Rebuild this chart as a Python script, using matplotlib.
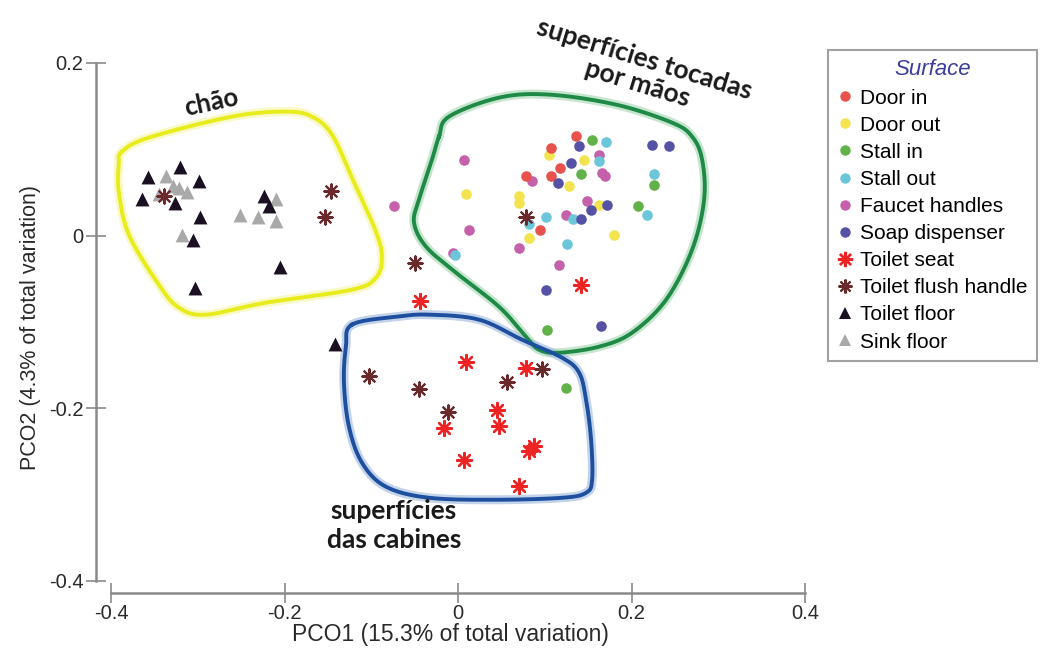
import numpy as np
import matplotlib.pyplot as plt
from matplotlib.lines import Line2D

# Sample scores (PCO1, PCO2)
door_in_x = [0.136, 0.107, 0.118, 0.078, 0.107, 0.095]
door_in_y = [0.115, 0.102, 0.078, 0.069, 0.069, 0.007]

door_out_x = [0.105, 0.145, 0.128, 0.070, 0.070, 0.009, 0.163, 0.180, 0.082]
door_out_y = [0.094, 0.088, 0.057, 0.046, 0.038, 0.048, 0.036, 0.001, -0.003]

stall_in_x = [0.155, 0.142, 0.226, 0.207, 0.103, 0.124]
stall_in_y = [0.111, 0.071, 0.059, 0.034, -0.109, -0.177]

stall_out_x = [0.171, 0.163, 0.226, 0.218, 0.101, 0.132, 0.082, 0.126, -0.003]
stall_out_y = [0.109, 0.086, 0.071, 0.024, 0.022, 0.019, 0.013, -0.010, -0.022]

faucet_x = [0.007, 0.013, -0.006, 0.085, 0.166, 0.170, 0.163, 0.149, 0.124, 0.070, 0.116, -0.074]
faucet_y = [0.088, 0.007, -0.020, 0.063, 0.073, 0.069, 0.094, 0.040, 0.024, -0.014, -0.034, 0.034]

soap_x = [0.140, 0.130, 0.115, 0.153, 0.172, 0.142, 0.101, 0.165, 0.224, 0.243]
soap_y = [0.104, 0.084, 0.061, 0.030, 0.036, 0.019, -0.063, -0.105, 0.105, 0.104]

seat_x = [0.142, -0.044, 0.009, 0.078, 0.045, 0.047, -0.016, 0.007, 0.088, 0.082, 0.070]
seat_y = [-0.057, -0.076, -0.146, -0.153, -0.202, -0.221, -0.223, -0.260, -0.244, -0.250, -0.290]

flush_x = [-0.339, -0.146, -0.153, -0.049, 0.078, -0.103, -0.045, -0.012, 0.057, 0.097]
flush_y = [0.046, 0.052, 0.022, -0.032, 0.022, -0.163, -0.178, -0.204, -0.169, -0.155]

tfloor_x = [-0.320, -0.357, -0.299, -0.364, -0.326, -0.297, -0.224, -0.218, -0.306, -0.205, -0.303, -0.142]
tfloor_y = [0.080, 0.068, 0.063, 0.042, 0.038, 0.022, 0.046, 0.034, -0.005, -0.036, -0.061, -0.125]

sfloor_x = [-0.337, -0.322, -0.312, -0.318, -0.251, -0.230, -0.210, -0.210, -0.329, -0.345]
sfloor_y = [0.069, 0.055, 0.051, 0.001, 0.024, 0.022, 0.042, 0.017, 0.057, 0.048]

# Hand-drawn group outlines (annotation, data coords)
chao_x = [-0.3875, -0.3564, -0.2607, -0.1984, -0.1684, -0.1453, -0.1223, -0.0946, -0.0877,
          -0.0946, -0.1223, -0.2215, -0.2907, -0.3218, -0.3449, -0.3795, -0.3910, -0.3910]
chao_y = [0.0973, 0.1136, 0.1379, 0.1437, 0.1379, 0.1170, 0.0672, 0.0046, -0.0255,
          -0.0487, -0.0626, -0.0776, -0.0915, -0.0834, -0.0568, 0.0012, 0.0510, 0.0823]

maos_x = [-0.0219, -0.0104, 0.0473, 0.1050, 0.1822, 0.2468, 0.2699, 0.2814, 0.2837, 0.2699, 0.2399,
          0.2007, 0.1626, 0.1165, 0.0934, 0.0784, 0.0473, -0.0023, -0.0369, -0.0507, -0.0450, -0.0300]
maos_y = [0.1147, 0.1379, 0.1599, 0.1634, 0.1518, 0.1309, 0.1147, 0.0881, 0.0417, -0.0162, -0.0742,
          -0.1124, -0.1286, -0.1356, -0.1321, -0.1170, -0.0823, -0.0429, -0.0127, 0.0151, 0.0417, 0.0881]

cab_x = [-0.1223, -0.0715, -0.0334, 0.0242, 0.0738, 0.1200, 0.1396, 0.1476, 0.1534, 0.1546,
         0.1476, 0.1200, 0.0438, -0.0334, -0.0830, -0.1107, -0.1257, -0.1315, -0.1292]
cab_y = [-0.1031, -0.0939, -0.0915, -0.0973, -0.1205, -0.1414, -0.1587, -0.1900, -0.2364, -0.2827,
         -0.2978, -0.3036, -0.3059, -0.3036, -0.2908, -0.2630, -0.2213, -0.1703, -0.1286]


def smooth_closed(xs, ys, n=24):
    # periodic Catmull-Rom through the outline points
    P = np.column_stack([xs, ys])
    m = len(P)
    t = np.linspace(0, 1, n, endpoint=False)[:, None]
    segs = []
    for i in range(m):
        p0, p1, p2, p3 = P[i - 1], P[i], P[(i + 1) % m], P[(i + 2) % m]
        segs.append(0.5 * (2 * p1 + (p2 - p0) * t + (2 * p0 - 5 * p1 + 4 * p2 - p3) * t ** 2
                           + (-p0 + 3 * p1 - 3 * p2 + p3) * t ** 3))
    out = np.vstack(segs + [segs[0][:1]])
    return out[:, 0], out[:, 1]


fig = plt.figure(figsize=(10.4, 6.53), dpi=100)
ax = fig.add_axes([96 / 1040, 1 - 593 / 653, (805 - 96) / 1040, (593 - 63) / 653])
ax.set_xlim(-0.4 - 15 / 867, 0.4)
ax.set_ylim(-0.4 - 12 / 863, 0.2)

# outlines with a soft glow
for xs, ys, col, glow in [(chao_x, chao_y, '#e8ec1c', '#f4f6a0'),
                          (maos_x, maos_y, '#1e8a45', '#9fd4ae'),
                          (cab_x, cab_y, '#1d4f9e', '#9bb6dc')]:
    sx, sy = smooth_closed(xs, ys)
    ax.plot(sx, sy, color=glow, lw=6.5, alpha=0.6, zorder=1, clip_on=False, solid_capstyle='round')
    ax.plot(sx, sy, color=col, lw=2.8, zorder=2, clip_on=False)

circ = dict(marker='o', s=58, linewidths=0, zorder=3)
ax.scatter(faucet_x, faucet_y, color='#c560aa', **circ)
ax.scatter(stall_out_x, stall_out_y, color='#6cc6da', **circ)
ax.scatter(door_out_x, door_out_y, color='#f3e34e', **circ)
ax.scatter(stall_in_x, stall_in_y, color='#62b24a', **circ)
ax.scatter(door_in_x, door_in_y, color='#e8524c', **circ)
ax.scatter(soap_x, soap_y, color='#5552a6', **circ)

star = (8, 2, 0)
ax.scatter(seat_x, seat_y, marker=star, s=115, color='#ee2424', linewidths=1.7, zorder=4)
ax.scatter(flush_x, flush_y, marker=star, s=105, color='#6a2a2c', linewidths=1.5, zorder=4)

ax.scatter(sfloor_x, sfloor_y, marker='^', s=100, color='#a9a9a9', linewidths=0, zorder=3)
ax.scatter(tfloor_x, tfloor_y, marker='^', s=100, color='#1b0f22', linewidths=0, zorder=3)

# axes styling: detached spines
for s in ['top', 'right']:
    ax.spines[s].set_visible(False)
ax.spines['left'].set_bounds(-0.4, 0.2)
ax.spines['bottom'].set_bounds(-0.4, 0.4)
for s in ['left', 'bottom']:
    ax.spines[s].set_color('#8a8a8a')
    ax.spines[s].set_linewidth(1.8)
ax.set_xticks([-0.4, -0.2, 0, 0.2, 0.4])
ax.set_xticklabels(['-0.4', '-0.2', '0', '0.2', '0.4'])
ax.set_yticks([-0.4, -0.2, 0, 0.2])
ax.set_yticklabels(['-0.4', '-0.2', '0', '0.2'])
ax.tick_params(direction='inout', length=14, width=1.2, color='#8a8a8a',
               labelsize=14.5, labelcolor='#2a2a2a')
ax.tick_params(axis='y', pad=2)
ax.tick_params(axis='x', pad=1)
for lab in ax.get_xticklabels() + ax.get_yticklabels():
    lab.set_family('Liberation Sans')

ax.set_xlabel('PCO1 (15.3% of total variation)', fontsize=16.5, family='Liberation Sans',
              color='#2a2a2a', labelpad=0)
ax.set_ylabel('PCO2 (4.3% of total variation)', fontsize=15.5, family='Liberation Sans',
              color='#2a2a2a', labelpad=6)

# group annotations
ax.text(-0.284, 0.154, 'chão', fontsize=18.5, fontweight='bold', family='Lato', rotation=12,
        ha='center', va='center', rotation_mode='anchor', color='#1a1a1a', clip_on=False)
ax.text(0.211, 0.190, 'superfícies tocadas\npor mãos', fontsize=19, fontweight='bold',
        family='Lato', rotation=-17, ha='center', va='center', multialignment='center',
        rotation_mode='anchor', color='#1a1a1a', linespacing=1.08, clip_on=False)
ax.text(-0.074, -0.336, 'superfícies\ndas cabines', fontsize=19, fontweight='bold',
        family='Lato', ha='center', va='center', multialignment='center',
        color='#1a1a1a', linespacing=1.25)

# legend
handles = [
    Line2D([], [], ls='', marker='o', ms=7.5, mew=0, color='#e8524c', label='Door in'),
    Line2D([], [], ls='', marker='o', ms=7.5, mew=0, color='#f3e34e', label='Door out'),
    Line2D([], [], ls='', marker='o', ms=7.5, mew=0, color='#62b24a', label='Stall in'),
    Line2D([], [], ls='', marker='o', ms=7.5, mew=0, color='#6cc6da', label='Stall out'),
    Line2D([], [], ls='', marker='o', ms=7.5, mew=0, color='#c560aa', label='Faucet handles'),
    Line2D([], [], ls='', marker='o', ms=7.5, mew=0, color='#5552a6', label='Soap dispenser'),
    Line2D([], [], ls='', marker=star, ms=11, mew=1.7, color='#ee2424', label='Toilet seat'),
    Line2D([], [], ls='', marker=star, ms=10, mew=1.5, color='#6a2a2c', label='Toilet flush handle'),
    Line2D([], [], ls='', marker='^', ms=9, mew=0, color='#1b0f22', label='Toilet floor'),
    Line2D([], [], ls='', marker='^', ms=9, mew=0, color='#a9a9a9', label='Sink floor'),
]
leg = fig.legend(handles=handles, title='Surface', loc='upper left',
                 bbox_to_anchor=(828 / 1040, 1 - 50 / 653), frameon=True, fancybox=False,
                 prop={'family': 'Liberation Sans', 'size': 15}, handlelength=0.75,
                 handletextpad=0.35, labelspacing=0.39, borderpad=0.45, borderaxespad=0)
leg.get_title().set_color('#3a3d9c')
leg.get_title().set_fontstyle('italic')
leg.get_title().set_fontsize(16)
leg.get_title().set_family('Liberation Sans')
leg.get_frame().set_edgecolor('#8a8a8a')
leg.get_frame().set_linewidth(1.5)

fig.savefig('out.png', dpi=100)
